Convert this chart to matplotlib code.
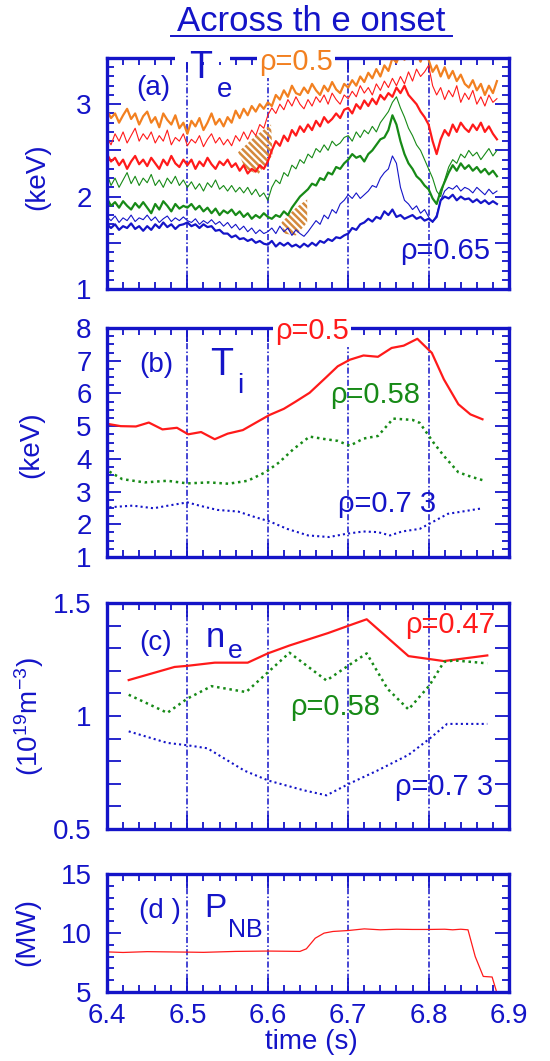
import numpy as np
import matplotlib
matplotlib.use("Agg")
import matplotlib.pyplot as plt
from matplotlib.ticker import MultipleLocator, FuncFormatter
from matplotlib.lines import Line2D
from matplotlib.patches import Rectangle

plt.rcParams['font.family'] = ['Liberation Sans', 'DejaVu Sans']
plt.rcParams['mathtext.fontset'] = 'custom'
plt.rcParams['mathtext.rm'] = 'Liberation Sans'
plt.rcParams['mathtext.default'] = 'regular'
plt.rcParams['hatch.linewidth'] = 1.8

# Donnees
onset_times = [6.5, 6.6, 6.7, 6.8]

# (a) Te, echantillonnage 5 ms
te_time = np.round(6.40 + 0.005 * np.arange(98), 3)
te_orange = [2.93, 2.85, 2.9, 2.8, 2.88, 2.95, 2.84, 2.9, 2.78, 2.87,
             2.92, 2.8, 2.86, 2.75, 2.9, 2.83, 2.78, 2.88, 2.74, 2.8,
             2.68, 2.82, 2.76, 2.85, 2.72, 2.8, 2.9, 2.78, 2.84, 2.76,
             2.86, 2.8, 2.93, 2.85, 2.95, 2.88, 2.98, 2.92, 3.0, 2.95,
             3.02, 2.98, 3.1, 3.05, 3.15, 3.08, 3.2, 3.12, 3.1, 3.18,
             3.12, 3.22, 3.15, 3.1, 3.2, 3.14, 3.24, 3.16, 3.12, 3.22,
             3.18, 3.26, 3.2, 3.3, 3.24, 3.34, 3.28, 3.38, 3.3, 3.42,
             3.36, 3.5, 3.45, 3.55, 3.48, 3.6, 3.5, 3.55, 3.46, 3.58,
             3.48, 3.35, 3.42, 3.3, 3.4, 3.28, 3.36, 3.25, 3.32, 3.22,
             3.18, 3.26, 3.15, 3.22, 3.1, 3.2, 3.12, 3.25]
te_red_thin = [2.64, 2.56, 2.68, 2.6, 2.7, 2.58, 2.66, 2.74, 2.6, 2.68,
               2.62, 2.7, 2.58, 2.66, 2.6, 2.72, 2.56, 2.64, 2.6, 2.68,
               2.55, 2.62, 2.58, 2.66, 2.54, 2.62, 2.68, 2.58, 2.64, 2.56,
               2.62, 2.55, 2.66, 2.6, 2.7, 2.62, 2.72, 2.66, 2.78, 2.74,
               2.88, 2.96, 2.9, 3.0, 2.94, 3.05, 2.98, 3.08, 3.0, 2.95,
               3.05, 2.98, 3.08, 3.02, 3.1, 3.0, 3.12, 3.05, 3.0, 3.1,
               3.06, 3.14, 3.08, 3.2, 3.12, 3.18, 3.1, 3.22, 3.15, 3.25,
               3.18, 3.28, 3.2, 3.3, 3.22, 3.35, 3.25, 3.38, 3.3, 3.35,
               3.42, 3.2, 3.1, 3.18, 3.05, 3.15, 3.08, 3.2, 3.02, 3.12,
               3.05, 3.15, 3.0, 3.08, 2.98, 3.1, 3.02, 3.06]
te_red = [2.46, 2.38, 2.42, 2.34, 2.4, 2.3, 2.38, 2.44, 2.35, 2.4,
          2.33, 2.42, 2.36, 2.3, 2.4, 2.34, 2.44, 2.36, 2.32, 2.4,
          2.34, 2.4, 2.3, 2.38, 2.33, 2.42, 2.35, 2.3, 2.38, 2.34,
          2.4, 2.32, 2.36, 2.28, 2.34, 2.25, 2.3, 2.27, 2.34, 2.3,
          2.38, 2.5, 2.6, 2.55, 2.66, 2.6, 2.72, 2.66, 2.76, 2.7,
          2.78, 2.72, 2.82, 2.76, 2.86, 2.8, 2.84, 2.9, 2.85, 2.94,
          2.96, 2.9, 3.0, 2.95, 3.04, 2.98, 3.06, 3.0, 3.1, 3.05,
          3.12, 3.08, 3.18, 3.12, 3.2, 3.1, 3.05, 3.0, 2.92, 2.86,
          2.78, 2.6, 2.46, 2.62, 2.72, 2.66, 2.78, 2.7, 2.8, 2.74,
          2.7, 2.78, 2.72, 2.8, 2.7, 2.76, 2.68, 2.62]
te_green_thin = [2.25, 2.12, 2.2, 2.1, 2.18, 2.26, 2.14, 2.22, 2.12, 2.2,
                 2.15, 2.24, 2.12, 2.18, 2.1, 2.2, 2.14, 2.22, 2.12, 2.18,
                 2.1, 2.16, 2.08, 2.14, 2.06, 2.15, 2.1, 2.18, 2.08, 2.12,
                 2.06, 2.12, 2.05, 2.1, 2.04, 2.1, 2.02, 2.08, 2.0, 2.04,
                 1.96, 2.1, 2.18, 2.14, 2.26, 2.22, 2.34, 2.3, 2.4, 2.36,
                 2.46, 2.42, 2.52, 2.48, 2.56, 2.5, 2.6, 2.55, 2.58, 2.64,
                 2.66, 2.6, 2.7, 2.64, 2.72, 2.68, 2.76, 2.7, 2.8, 2.86,
                 2.92, 3.02, 3.08, 2.96, 2.86, 2.74, 2.66, 2.56, 2.5, 2.4,
                 2.3, 2.2, 2.06, 2.0, 2.18, 2.32, 2.4, 2.36, 2.46, 2.42,
                 2.5, 2.44, 2.48, 2.4, 2.46, 2.52, 2.44, 2.5]
te_green = [1.98, 1.9, 1.94, 1.88, 1.95, 1.9, 1.86, 1.93, 1.88, 1.94,
            1.88, 1.82, 1.92, 1.86, 1.95, 1.9, 1.84, 1.92, 1.87, 1.9,
            1.88, 1.92, 1.86, 1.9, 1.84, 1.88, 1.82, 1.87, 1.8, 1.85,
            1.82, 1.86, 1.8, 1.84, 1.78, 1.82, 1.76, 1.8, 1.77, 1.82,
            1.78, 1.76, 1.8, 1.78, 1.84, 1.8, 1.88, 1.94, 2.0, 2.04,
            2.08, 2.14, 2.12, 2.2, 2.18, 2.26, 2.24, 2.32, 2.3, 2.36,
            2.4, 2.46, 2.42, 2.44, 2.38, 2.46, 2.5, 2.56, 2.62, 2.64,
            2.72, 2.88, 2.78, 2.6, 2.46, 2.36, 2.3, 2.22, 2.18, 2.12,
            2.08, 1.98, 1.92, 2.06, 2.16, 2.26, 2.34, 2.28, 2.36, 2.3,
            2.34, 2.28, 2.32, 2.26, 2.3, 2.24, 2.28, 2.22]
te_blue_thin = [1.78, 1.74, 1.79, 1.72, 1.77, 1.74, 1.8, 1.73, 1.77, 1.75,
                1.8, 1.74, 1.78, 1.72, 1.76, 1.79, 1.73, 1.77, 1.74, 1.78,
                1.74, 1.72, 1.76, 1.7, 1.74, 1.71, 1.75, 1.7, 1.73, 1.68,
                1.72, 1.66, 1.7, 1.64, 1.68, 1.62, 1.66, 1.6, 1.64, 1.6,
                1.62, 1.66, 1.6, 1.68, 1.62, 1.66, 1.58, 1.64, 1.6, 1.57,
                1.62, 1.68, 1.74, 1.7, 1.8, 1.76, 1.86, 1.82, 1.92, 1.96,
                2.02, 1.98, 2.04, 1.98, 2.02, 2.06, 2.12, 2.1, 2.2, 2.26,
                2.3, 2.44, 2.36, 2.1, 1.96, 1.92, 1.86, 1.9, 1.82, 1.86,
                1.78, 1.72, 1.8, 1.96, 2.06, 2.1, 2.08, 2.12, 2.06, 2.1,
                2.08, 2.04, 2.1, 2.06, 2.02, 2.08, 2.03, 2.06]
te_blue = [1.7, 1.66, 1.7, 1.64, 1.68, 1.66, 1.71, 1.65, 1.68, 1.63,
           1.68, 1.64, 1.7, 1.66, 1.72, 1.67, 1.7, 1.65, 1.69, 1.7,
           1.72, 1.68, 1.7, 1.66, 1.7, 1.67, 1.68, 1.63, 1.64, 1.6,
           1.6, 1.56, 1.58, 1.54, 1.55, 1.52, 1.54, 1.5, 1.52, 1.49,
           1.48, 1.52, 1.46, 1.5, 1.47, 1.5, 1.46, 1.48, 1.45, 1.49,
           1.46, 1.5, 1.47, 1.52, 1.5, 1.54, 1.52, 1.56, 1.55, 1.58,
           1.6, 1.66, 1.64, 1.7, 1.72, 1.76, 1.73, 1.78, 1.76, 1.84,
           1.8, 1.86, 1.78, 1.8, 1.76, 1.78, 1.8, 1.76, 1.78, 1.74,
           1.76, 1.73, 1.78, 1.96, 2.0, 1.98, 2.02, 1.96, 2.0, 1.97,
           1.98, 1.94, 1.97, 1.93, 1.96, 1.92, 1.95, 1.92]
# zones hachurees (temps, keV)
hatch1_t = [6.563, 6.585, 6.604, 6.606, 6.588, 6.572]
hatch1_v = [2.48, 2.66, 2.78, 2.45, 2.24, 2.3]
hatch2_t = [6.617, 6.635, 6.649, 6.649, 6.635, 6.62]
hatch2_v = [1.72, 1.88, 1.97, 1.72, 1.58, 1.6]

# (b) Ti
ti_t_red = [6.403, 6.417, 6.436, 6.452, 6.469, 6.487, 6.501, 6.517, 6.534, 6.55,
            6.569, 6.589, 6.602, 6.62, 6.634, 6.652, 6.672, 6.687, 6.702, 6.719,
            6.737, 6.754, 6.769, 6.786, 6.804, 6.819, 6.837, 6.852, 6.867]
ti_red = [5.06, 5.0, 4.99, 5.11, 4.9, 4.95, 4.75, 4.82, 4.6, 4.77,
          4.88, 5.16, 5.34, 5.53, 5.74, 6.02, 6.48, 6.83, 7.03, 7.16,
          7.12, 7.39, 7.46, 7.67, 7.24, 6.43, 5.67, 5.36, 5.21]
ti_t_green = [6.403, 6.419, 6.447, 6.475, 6.5, 6.527, 6.551, 6.575, 6.597, 6.614,
              6.632, 6.652, 6.672, 6.687, 6.702, 6.719, 6.737, 6.756, 6.78, 6.789,
              6.806, 6.819, 6.837, 6.852, 6.867]
ti_green = [3.61, 3.38, 3.28, 3.33, 3.25, 3.28, 3.24, 3.33, 3.59, 3.89,
            4.3, 4.68, 4.6, 4.55, 4.4, 4.62, 4.7, 5.23, 5.19, 5.1,
            4.5, 4.09, 3.59, 3.46, 3.35]
ti_t_blue = [6.403, 6.432, 6.458, 6.476, 6.5, 6.515, 6.537, 6.563, 6.584, 6.602,
             6.624, 6.65, 6.676, 6.698, 6.719, 6.737, 6.752, 6.767, 6.789, 6.802,
             6.824, 6.842, 6.867]
ti_blue = [2.52, 2.57, 2.49, 2.57, 2.67, 2.57, 2.44, 2.39, 2.22, 2.09,
           1.86, 1.66, 1.61, 1.71, 1.78, 1.76, 1.66, 1.78, 1.86, 2.03,
           2.32, 2.39, 2.49]

# (c) ne
ne_t_red = [6.427, 6.484, 6.5, 6.534, 6.575, 6.6, 6.627, 6.675, 6.7, 6.723, 6.775, 6.819, 6.873]
ne_red = [1.159, 1.217, 1.222, 1.236, 1.236, 1.277, 1.312, 1.367, 1.399, 1.428, 1.265, 1.243, 1.268]
ne_t_green = [6.427, 6.475, 6.5, 6.53, 6.573, 6.6, 6.627, 6.673, 6.701, 6.723,
              6.749, 6.775, 6.801, 6.819, 6.832, 6.873]
ne_green = [1.094, 1.014, 1.077, 1.132, 1.106, 1.193, 1.28, 1.157, 1.225, 1.277,
            1.12, 1.029, 1.135, 1.239, 1.246, 1.233]
ne_t_blue = [6.427, 6.475, 6.501, 6.525, 6.571, 6.601, 6.645, 6.673, 6.701, 6.736,
             6.775, 6.801, 6.823, 6.873]
ne_blue = [0.932, 0.881, 0.87, 0.857, 0.758, 0.714, 0.671, 0.649, 0.7, 0.758,
           0.828, 0.899, 0.965, 0.965]

# (d) PNB
pnb_t = [6.40, 6.42, 6.45, 6.50, 6.52, 6.56, 6.60, 6.64, 6.648, 6.659, 6.67, 6.681, 6.70,
         6.72, 6.74, 6.76, 6.78, 6.80, 6.82, 6.83, 6.84, 6.849, 6.858, 6.868, 6.879, 6.884, 6.886]
pnb = [8.4, 8.35, 8.42, 8.38, 8.36, 8.44, 8.47, 8.44, 8.66, 9.56, 9.99, 10.13, 10.21,
       10.35, 10.27, 10.32, 10.3, 10.3, 10.32, 10.27, 10.32, 10.27, 8.0, 6.32, 6.27, 5.14, 4.6]

# Couleurs
BLUE = '#1414c8'
ORANGE = '#f28020'
RED = '#ff1a1a'
GREEN = '#178a17'
HATCH = '#d4893c'

W, H = 550, 1061
fig = plt.figure(figsize=(W / 100, H / 100), dpi=100)


def int_fmt(step):
    return FuncFormatter(lambda v, _: f'{v:g}' if abs(v / step - round(v / step)) < 1e-6 else '')


def panel(top, bottom, ylim, ymaj, ymin, lab_step):
    ax = fig.add_axes([107 / W, 1 - bottom / H, 402 / W, (bottom - top) / H])
    ax.set_xlim(6.4, 6.9)
    ax.set_ylim(*ylim)
    ax.xaxis.set_major_locator(MultipleLocator(0.1))
    ax.xaxis.set_minor_locator(MultipleLocator(0.02))
    ax.yaxis.set_major_locator(MultipleLocator(ymaj))
    ax.yaxis.set_minor_locator(MultipleLocator(ymin))
    ax.yaxis.set_major_formatter(int_fmt(lab_step))
    ax.tick_params(which='both', direction='in', top=True, right=True, color=BLUE,
                   labelcolor=BLUE, labelsize=20, width=1.3)
    ax.tick_params(axis='y', pad=11)
    ax.tick_params(axis='x', pad=8, labelbottom=False)
    ax.tick_params(which='major', length=10)
    ax.tick_params(which='minor', length=5)
    for s in ax.spines.values():
        s.set_color(BLUE)
        s.set_linewidth(2.4)
    for t in onset_times:
        ax.axvline(t, color=BLUE, lw=1.1, ls=(0, (4, 1.5, 1, 1.5)), zorder=1)
    return ax


def label(x, y, s, color=BLUE, size=20, box=False):
    kw = {}
    if box:
        kw['bbox'] = dict(facecolor='white', edgecolor='none', pad=1.5)
    fig.text(x / W, 1 - y / H, s, color=color, fontsize=size, ha='left', va='baseline', zorder=6, **kw)


def ylabel(x, y, s):
    fig.text(x / W, 1 - y / H, s, color=BLUE, fontsize=20, rotation=90, ha='center', va='center')


# Titre
fig.text(311 / W, 1 - 31 / H, 'Across th e onset', color=BLUE, fontsize=25, ha='center', va='baseline')
fig.add_artist(Line2D([171 / W, 452 / W], [1 - 36 / H, 1 - 36 / H], color=BLUE, lw=1.4,
                      transform=fig.transFigure))

# (a)
ax = panel(58, 289, (1, 3.5), 0.5, 0.1, 1)
ax.fill(hatch1_t, hatch1_v, facecolor='none', edgecolor=HATCH, lw=0, hatch='\\\\\\\\\\')
ax.fill(hatch2_t, hatch2_v, facecolor='none', edgecolor=HATCH, lw=0, hatch='\\\\\\\\\\')
ax.plot(te_time, te_orange, color=ORANGE, lw=1.6)
ax.plot(te_time, te_red_thin, color=RED, lw=0.8)
ax.plot(te_time, te_red, color=RED, lw=1.6)
ax.plot(te_time, te_green_thin, color=GREEN, lw=0.8)
ax.plot(te_time, te_green, color=GREEN, lw=1.6)
ax.plot(te_time, te_blue_thin, color=BLUE, lw=0.8)
ax.plot(te_time, te_blue, color=BLUE, lw=1.6)
fig.add_artist(Rectangle((175 / W, 1 - 62 / H), 55 / W, 8 / H, facecolor='white',
                         edgecolor='none', transform=fig.transFigure, zorder=5))
label(136, 95, '(a)')
label(189, 78, 'T', size=27)
label(217, 97, 'e')
label(259, 70, 'ρ=0.5', ORANGE, 21, box=True)
label(400, 259, 'ρ=0.65', BLUE, 21)
ylabel(37, 177, '(keV)')

# (b)
ax = panel(328, 557, (1, 8), 1, 0.25, 1)
ax.plot(ti_t_red, ti_red, color=RED, lw=1.6)
ax.plot(ti_t_green, ti_green, color=GREEN, lw=1.8, ls=(0, (1, 1.5)))
ax.plot(ti_t_blue, ti_blue, color=BLUE, lw=1.5, ls=(0, (1, 1.5)))
label(139, 372, '(b)')
label(210, 375, 'T', size=27)
label(237, 393, 'i')
label(275, 339, 'ρ=0.5', RED, 21, box=True)
label(330, 403, 'ρ=0.58', GREEN, 21)
label(338, 512, 'ρ=0.7 3', BLUE, 21)
ylabel(31, 445, '(keV)')

# (c)
ax = panel(603, 829, (0.5, 1.5), 0.1, 0.1, 0.5)
ax.plot(ne_t_red, ne_red, color=RED, lw=1.6)
ax.plot(ne_t_green, ne_green, color=GREEN, lw=1.8, ls=(0, (1, 1.5)))
ax.plot(ne_t_blue, ne_blue, color=BLUE, lw=1.5, ls=(0, (1, 1.5)))
label(139, 650, '(c)')
label(206, 647, 'n', size=25)
label(228, 658, 'e', size=19)
label(405, 633, 'ρ=0.47', RED, 21)
label(290, 715, 'ρ=0.58', GREEN, 21)
label(395, 795, 'ρ=0.7 3', BLUE, 21)
ylabel(29, 717, '(10$^{19}$m$^{-3}$)')

# (d)
ax = panel(874, 992, (5, 15), 5, 1, 5)
ax.plot(pnb_t, pnb, color=RED, lw=0.9)
ax.tick_params(axis='x', labelbottom=True)
ax.xaxis.set_major_formatter(FuncFormatter(lambda v, _: f'{v:.1f}'))
label(139, 918, '(d )')
label(204, 917, 'P', size=24)
label(228, 937, 'NB', size=18)
ylabel(27, 932, '(MW)')
fig.text(311 / W, 1 - 1042 / H, 'time (s)', color=BLUE, fontsize=20, ha='center', va='center')

fig.savefig('out.png', dpi=100)
